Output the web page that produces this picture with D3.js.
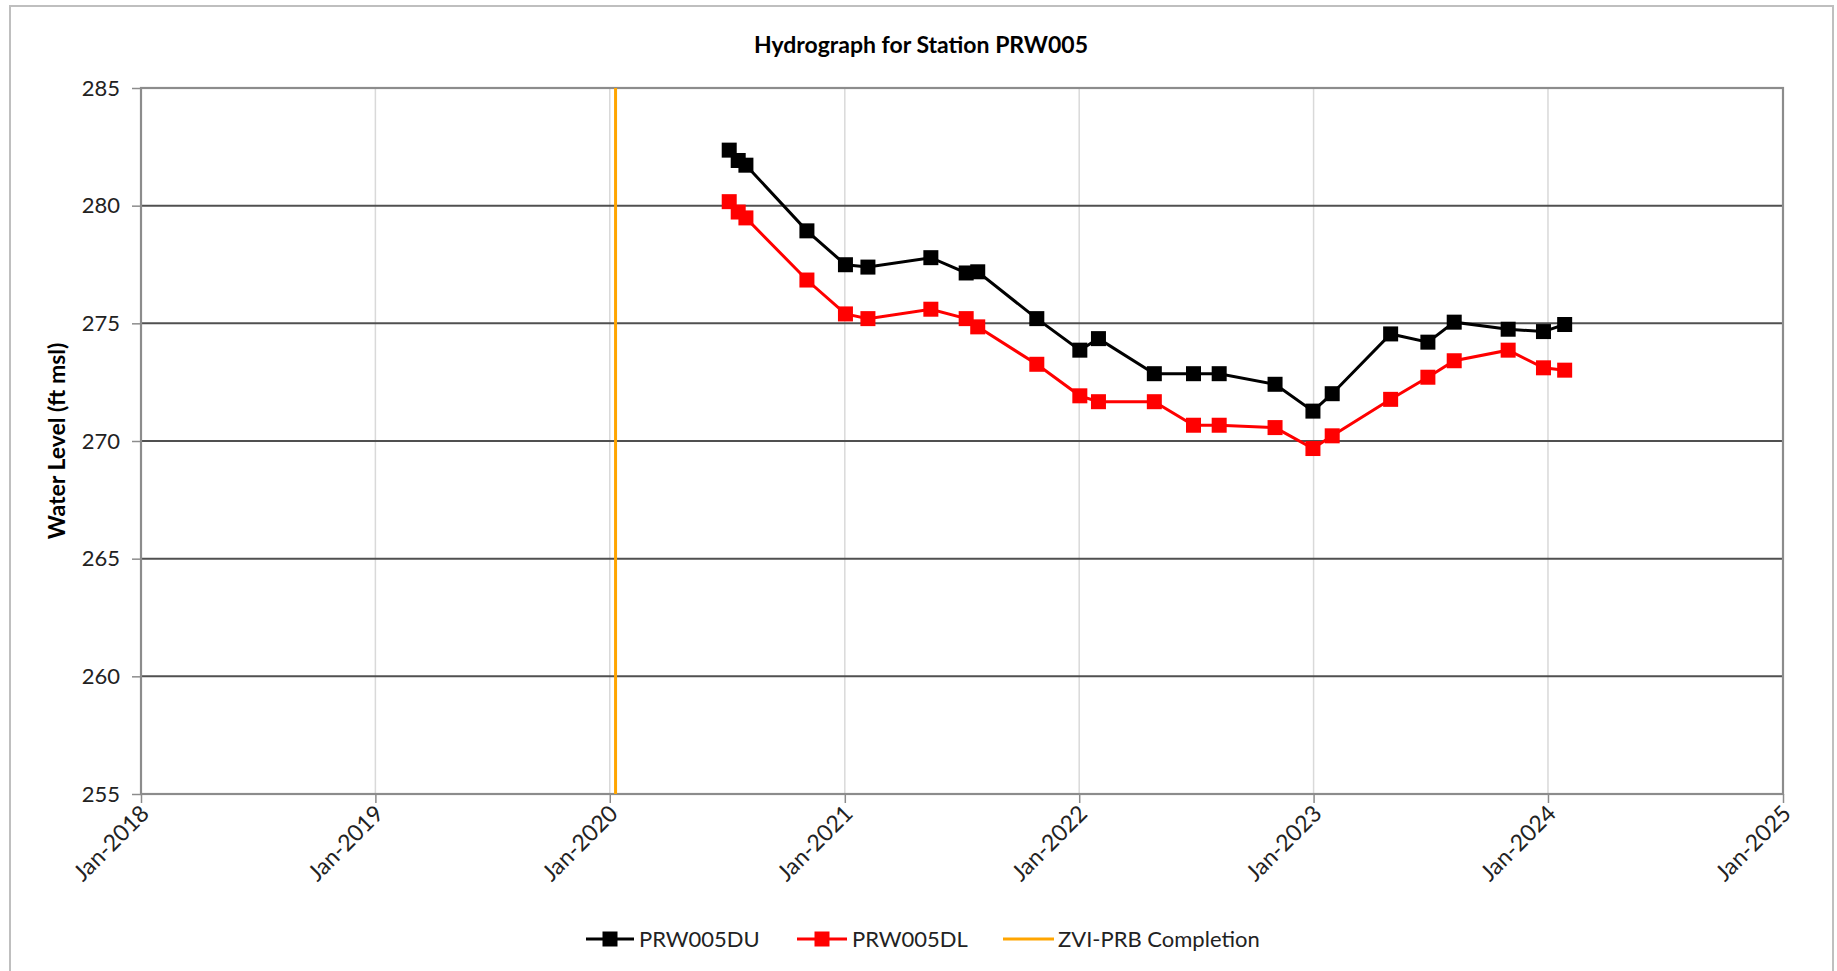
<!DOCTYPE html>
<html>
<head>
<meta charset="utf-8">
<script src="https://cdn.jsdelivr.net/npm/d3@7"></script>
<style>
  html, body { margin: 0; padding: 0; background: #fff; }
  svg { display: block; font-family: Lato, "Open Sans", sans-serif; }
</style>
</head>
<body>
<svg id="chart" width="1837" height="971"></svg>
<script>
// ---- data ----
const dates = ["2020-07-05","2020-07-19","2020-07-31","2020-11-03","2021-01-02","2021-02-06",
  "2021-05-15","2021-07-09","2021-07-27","2021-10-27","2022-01-02","2022-01-31",
  "2022-04-28","2022-06-28","2022-08-07","2022-11-02","2022-12-31","2023-01-30",
  "2023-05-01","2023-06-28","2023-08-08","2023-10-31","2023-12-25","2024-01-27"];
const duValues = [282.36,281.92,281.72,278.93,277.49,277.39,277.79,277.14,277.19,275.20,273.86,274.35,
  272.86,272.86,272.86,272.41,271.27,272.01,274.55,274.20,275.05,274.75,274.65,274.95];
const dlValues = [280.17,279.73,279.48,276.84,275.40,275.20,275.60,275.20,274.85,273.26,271.92,271.67,
  271.67,270.67,270.67,270.57,269.68,270.22,271.77,272.71,273.41,273.86,273.11,273.01];
const completionDate = "2020-01-10";
const xTickLabels = ["Jan-2018","Jan-2019","Jan-2020","Jan-2021","Jan-2022","Jan-2023","Jan-2024","Jan-2025"];
const yTicks = [255,260,265,270,275,280,285];
const seriesNames = ["PRW005DU","PRW005DL","ZVI-PRB Completion"];
const titleText = "Hydrograph for Station PRW005";
const yAxisTitle = "Water Level (ft msl)";

// ---- layout ----
const svg = d3.select("#chart");
const plot = {left: 141, right: 1783, top: 88, bottom: 794};
const parse = d3.timeParse("%Y-%m-%d");

const x = d3.scaleTime()
  .domain([new Date(2018,0,1), new Date(2025,0,1)])
  .range([plot.left, plot.right]);
const y = d3.scaleLinear().domain([255,285]).range([plot.bottom, plot.top]);

// outer border (bottom edge lies outside the view)
svg.append("rect").attr("x",10).attr("y",6).attr("width",1823).attr("height",1000)
  .attr("fill","#fff").attr("stroke","#bfbfbf").attr("stroke-width",2);

// title
svg.append("text").attr("x",921).attr("y",53).attr("text-anchor","middle")
  .attr("font-size",23).attr("font-weight","bold").attr("fill","#000").text(titleText);

const xTickDates = xTickLabels.map((d,i)=>new Date(2018+i,0,1));

// vertical gridlines
svg.append("g").selectAll("line").data(xTickDates.slice(1,-1)).join("line")
  .attr("x1",d=>x(d)).attr("x2",d=>x(d)).attr("y1",plot.top).attr("y2",plot.bottom)
  .attr("stroke","#d9d9d9").attr("stroke-width",1.5);

// horizontal gridlines
svg.append("g").selectAll("line").data(yTicks.slice(1,-1)).join("line")
  .attr("x1",plot.left).attr("x2",plot.right).attr("y1",d=>y(d)).attr("y2",d=>y(d))
  .attr("stroke","#505050").attr("stroke-width",2);

// plot border
svg.append("rect").attr("x",plot.left).attr("y",plot.top)
  .attr("width",plot.right-plot.left).attr("height",plot.bottom-plot.top)
  .attr("fill","none").attr("stroke","#8c8c8c").attr("stroke-width",2.2);

// y axis
const yAxis = d3.axisLeft(y).tickValues(yTicks).tickSize(9).tickPadding(12).tickFormat(d3.format("d"));
const gy = svg.append("g").attr("transform",`translate(${plot.left},0)`).call(yAxis);
gy.select(".domain").remove();
gy.selectAll(".tick line").attr("stroke","#8c8c8c").attr("stroke-width",1.5);
gy.selectAll(".tick text").attr("font-size",22).attr("fill","#222").attr("font-family","Lato, sans-serif");

// x axis
const xAxis = d3.axisBottom(x).tickValues(xTickDates).tickSize(9).tickFormat((d,i)=>xTickLabels[i]);
const gx = svg.append("g").attr("transform",`translate(0,${plot.bottom})`).call(xAxis);
gx.select(".domain").remove();
gx.selectAll(".tick line").attr("stroke","#8c8c8c").attr("stroke-width",1.5);
gx.selectAll(".tick text")
  .attr("font-size",23).attr("fill","#222").attr("font-family","Lato, sans-serif")
  .attr("text-anchor","end").attr("dy",null).attr("y",0)
  .attr("transform","translate(9,21) rotate(-45)");

// y axis title
svg.append("text").attr("transform",`translate(65,${(plot.top+plot.bottom)/2}) rotate(-90)`)
  .attr("text-anchor","middle").attr("font-size",23).attr("font-weight","bold").text(yAxisTitle);

// completion line
svg.append("line").attr("x1",x(parse(completionDate))).attr("x2",x(parse(completionDate)))
  .attr("y1",plot.top).attr("y2",plot.bottom).attr("stroke","#FFA500").attr("stroke-width",3);

// series
const series = [
  {name: seriesNames[0], color: "#000000", values: duValues},
  {name: seriesNames[1], color: "#FF0000", values: dlValues}
];
const line = d3.line().x(d=>x(d.date)).y(d=>y(d.v));
const ms = 15;
series.forEach(s => {
  const pts = dates.map((d,i)=>({date: parse(d), v: s.values[i]}));
  svg.append("path").datum(pts).attr("d",line).attr("fill","none")
    .attr("stroke",s.color).attr("stroke-width",3);
  svg.append("g").selectAll("rect").data(pts).join("rect")
    .attr("x",d=>x(d.date)-ms/2).attr("y",d=>y(d.v)-ms/2)
    .attr("width",ms).attr("height",ms).attr("fill",s.color);
});

// legend
const legendY = 939;
const legendItems = [
  {name: seriesNames[0], color:"#000", x1:586, x2:634, marker:true, tx:639},
  {name: seriesNames[1], color:"#FF0000", x1:797, x2:847, marker:true, tx:852},
  {name: seriesNames[2], color:"#FFA500", x1:1003, x2:1054, marker:false, tx:1058}
];
const lg = svg.append("g");
legendItems.forEach(it => {
  lg.append("line").attr("x1",it.x1).attr("x2",it.x2).attr("y1",legendY).attr("y2",legendY)
    .attr("stroke",it.color).attr("stroke-width",3);
  if (it.marker) {
    lg.append("rect").attr("x",(it.x1+it.x2)/2-ms/2).attr("y",legendY-ms/2)
      .attr("width",ms).attr("height",ms).attr("fill",it.color);
  }
  lg.append("text").attr("x",it.tx).attr("y",legendY).attr("dy","0.35em")
    .attr("font-size",22).attr("fill","#222").text(it.name);
});
</script>
</body>
</html>
